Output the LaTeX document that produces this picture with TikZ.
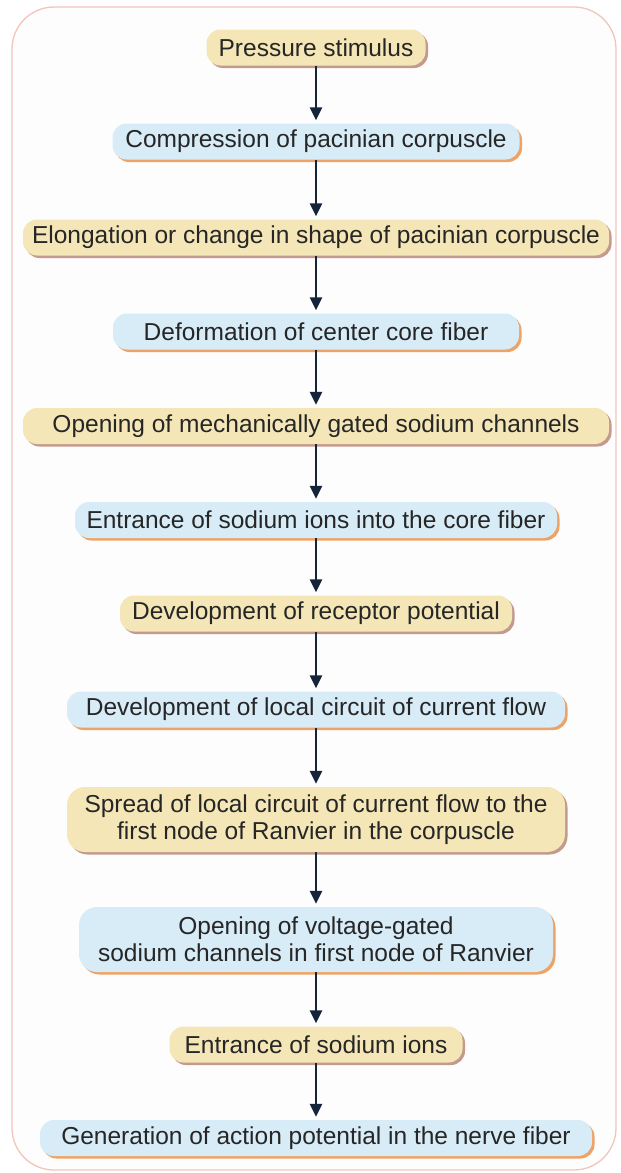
\documentclass[tikz,border=0pt]{standalone}
\usepackage{fontspec}
\setmainfont{Liberation Sans}
\usetikzlibrary{arrows.meta}
\definecolor{yfill}{HTML}{F4E6B6}
\definecolor{bfill}{HTML}{D8ECF7}
\definecolor{yshad}{HTML}{C49A8E}
\definecolor{bshad}{HTML}{EEA366}
\definecolor{txt}{HTML}{262626}
\definecolor{arrc}{HTML}{14243A}
\definecolor{frame}{HTML}{F3C4BA}
\definecolor{framefill}{HTML}{FDFDFD}
\begin{document}
\begin{tikzpicture}[x=1pt,y=-1pt,
  box/.style={rounded corners=14pt, minimum height=36pt, inner sep=0pt, align=center,
    text=txt, font=\fontsize{24.5}{27}\selectfont},
  ybox/.style={box, fill=yfill,
    preaction={fill=yshad, transform canvas={xshift=2.5pt, yshift=-2.5pt}}},
  bbox/.style={box, fill=bfill,
    preaction={fill=bshad, transform canvas={xshift=2.5pt, yshift=-2.5pt}}},
  tall/.style={minimum height=65pt, rounded corners=18pt},
  arr/.style={-{Triangle[width=12pt,length=13pt]}, line width=2.8pt, draw=arrc, shorten >=3pt}]
\useasboundingbox (0,0) rectangle (621,1173);
\draw[draw=frame, fill=framefill, line width=1.3pt, rounded corners=42pt] (12,7) rectangle (616,1170);

\node[ybox, minimum width=219pt] (n1) at (316,47.5) {Pressure stimulus};
\node[bbox, minimum width=407pt] (n2) at (316,141.5) {Compression of pacinian corpuscle};
\node[ybox, minimum width=586pt] (n3) at (316,237.5) {Elongation or change in shape of pacinian corpuscle};
\node[bbox, minimum width=406pt] (n4) at (316,331.5) {Deformation of center core fiber};
\node[ybox, minimum width=586pt] (n5) at (316,426) {Opening of mechanically gated sodium channels};
\node[bbox, minimum width=482pt] (n6) at (316,520) {Entrance of sodium ions into the core fiber};
\node[ybox, minimum width=392pt] (n7) at (316,613.5) {Development of receptor potential};
\node[bbox, minimum width=498pt] (n8) at (316,709.5) {Development of local circuit of current flow};
\node[ybox, tall, minimum width=498pt] (n9) at (316,819.5) {Spread of local circuit of current flow to the\\first node of Ranvier in the corpuscle};
\node[bbox, tall, minimum width=474pt] (n10) at (316,939.5) {Opening of voltage-gated\\sodium channels in first node of Ranvier};
\node[ybox, minimum width=293pt] (n11) at (316,1044.5) {Entrance of sodium ions};
\node[bbox, minimum width=552pt] (n12) at (316,1138) {Generation of action potential in the nerve fiber};

\foreach \a/\b in {n1/n2,n2/n3,n3/n4,n4/n5,n5/n6,n6/n7,n7/n8,n8/n9,n9/n10,n10/n11,n11/n12}
  \draw[arr] (\a.south) -- (\b.north);
\end{tikzpicture}
\end{document}
